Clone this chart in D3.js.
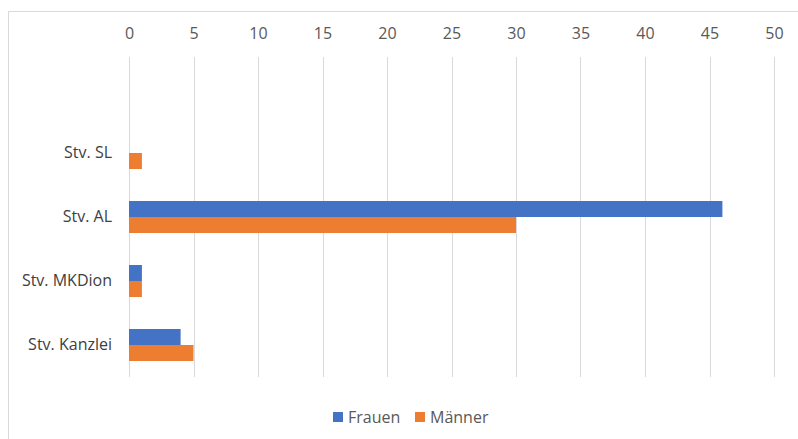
<!DOCTYPE html>
<html lang="de">
<head>
<meta charset="utf-8">
<title>Stv. Frauen / Männer</title>
<script src="https://d3js.org/d3.v7.min.js"></script>
<style>
    body {
        margin: 0;
        background: #fff;
        font-family: "Open Sans", sans-serif;
    }
    .grid line {
        stroke: #d9d9d9;
        stroke-width: 1;
    }
    .xaxis text {
        fill: #595959;
        font-size: 16px;
        font-family: "Open Sans", sans-serif;
    }
    .yaxis text {
        fill: #404040;
        font-size: 16px;
        font-family: "Open Sans", sans-serif;
    }
    .legend text {
        fill: #595959;
        font-size: 16px;
    }
</style>
</head>
<body>
<svg id="chart" width="798" height="439"></svg>
<script>
// ---------- data ----------
var categories = ["", "Stv. SL", "Stv. AL", "Stv. MKDion", "Stv. Kanzlei"];
var series = ["Frauen", "Männer"];
var frauen = [0, 0, 46, 1, 4];
var maenner = [0, 1, 30, 1, 5];
var xTicks = [0, 5, 10, 15, 20, 25, 30, 35, 40, 45, 50];
var colors = ["#4472c4", "#ed7d31"];

var rows = categories.map(function (c, i) {
    return { cat: c, values: [frauen[i], maenner[i]] };
});

// ---------- layout ----------
var svg = d3.select("#chart");
var margin = { left: 129, right: 24, top: 57, bottom: 62 };
var width = 798 - margin.left - margin.right;   // 645
var height = 439 - margin.top - margin.bottom;  // 320

// chart frame
svg.append("rect")
    .attr("x", 8.5).attr("y", 11.5)
    .attr("width", 800).attr("height", 440)
    .attr("fill", "none")
    .attr("stroke", "#d9d9d9");

var g = svg.append("g").attr("transform", "translate(" + margin.left + "," + margin.top + ")");

var x = d3.scaleLinear().domain([0, 50]).range([0, width]);
var y = d3.scaleBand().domain(categories).range([0, height]).paddingInner(0.5).paddingOuter(0.25);
var ySub = d3.scaleBand().domain(series).range([0, y.bandwidth()]);

// gridlines
g.append("g").attr("class", "grid")
    .selectAll("line")
    .data(xTicks)
    .enter().append("line")
    .attr("x1", function (d) { return Math.round(x(d)) + 0.5; })
    .attr("x2", function (d) { return Math.round(x(d)) + 0.5; })
    .attr("y1", 0)
    .attr("y2", height);

// x axis on top
var xAxis = g.append("g").attr("class", "xaxis")
    .attr("transform", "translate(0,-18)")
    .call(d3.axisTop(x).tickValues(xTicks).tickSize(0).tickPadding(0));
xAxis.select(".domain").remove();
xAxis.selectAll("text").attr("dy", "0");

// bars
var groups = g.selectAll(".cat")
    .data(rows)
    .enter().append("g")
    .attr("class", "cat")
    .attr("transform", function (d) { return "translate(0," + y(d.cat) + ")"; });

groups.selectAll("rect")
    .data(function (d) { return d.values.map(function (v, i) { return { s: series[i], v: v, i: i }; }); })
    .enter().append("rect")
    .attr("x", x(0))
    .attr("y", function (d) { return ySub(d.s); })
    .attr("width", function (d) { return x(d.v) - x(0); })
    .attr("height", ySub.bandwidth())
    .attr("fill", function (d) { return colors[d.i]; });

// category axis
var yAxis = g.append("g").attr("class", "yaxis")
    .attr("transform", "translate(-17,0)")
    .call(d3.axisLeft(y).tickSize(0).tickPadding(0));
yAxis.select(".domain").remove();

// legend
var legend = svg.append("g").attr("class", "legend").attr("transform", "translate(333,412)");
var legX = [0, 82];
series.forEach(function (s, i) {
    legend.append("rect")
        .attr("x", legX[i]).attr("y", 0)
        .attr("width", 10).attr("height", 10)
        .attr("fill", colors[i]);
    legend.append("text")
        .attr("x", legX[i] + 15).attr("y", 11)
        .text(s);
});
</script>
</body>
</html>
